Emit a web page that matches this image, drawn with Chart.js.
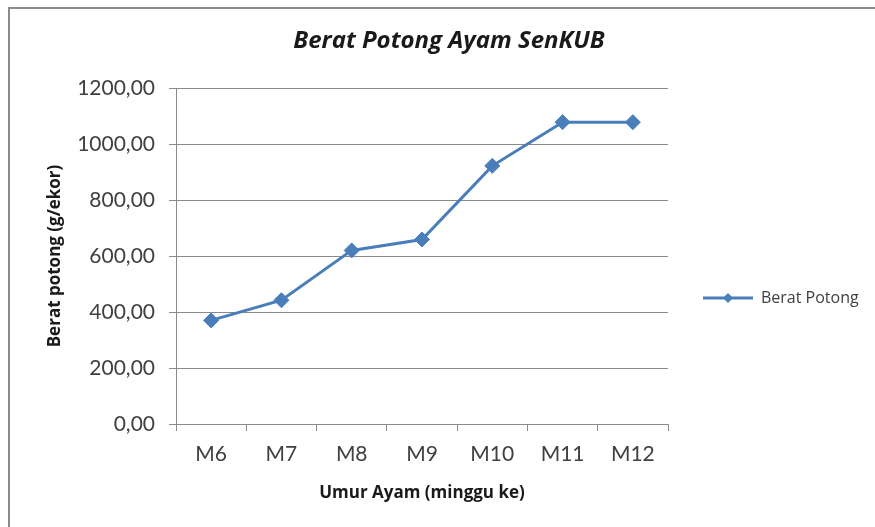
<!DOCTYPE html>
<html><head><meta charset="utf-8">
<script src="https://cdn.jsdelivr.net/npm/chart.js@4"></script>
<style>html,body{margin:0;padding:0;background:#fff}</style>
</head><body>
<canvas id="c" width="875" height="527"></canvas>
<script>
const categories = ['M6', 'M7', 'M8', 'M9', 'M10', 'M11', 'M12'];
const beratPotong = [370, 442, 620, 659, 922, 1078, 1078];
const seriesName = 'Berat Potong';
const chartTitle = 'Berat Potong Ayam SenKUB';
const xTitle = 'Umur Ayam (minggu ke)';
const yTitle = 'Berat potong (g/ekor)';
const yMin = 0, yMax = 1200, yStep = 200;

const blue = '#4A7EBB';
const gridGray = '#8a8a8a';
const textGray = '#404040';
const legendPad = 10;

// legend marker: short line with a diamond
const mk = document.createElement('canvas');
mk.width = 50; mk.height = 16;
(function () {
  const g = mk.getContext('2d');
  g.strokeStyle = blue; g.lineWidth = 3;
  g.beginPath(); g.moveTo(0, 8); g.lineTo(50, 8); g.stroke();
  g.fillStyle = blue;
  g.beginPath(); g.moveTo(25, 3); g.lineTo(30, 8); g.lineTo(25, 13); g.lineTo(20, 8); g.closePath(); g.fill();
})();

const placer = {
  id: 'placer',
  afterLayout(chart) {
    const lg = chart.legend;
    if (lg) {
      const h = lg.height;
      lg.left = 703 - legendPad; lg.right = 875;
      lg.top = 298 - h / 2; lg.bottom = lg.top + h;
    }
    const t = chart.titleBlock;
    if (t) {
      const tw = t.right - t.left;
      t.left = 449 - tw / 2; t.right = t.left + tw;
    }
  },
  beforeDraw(chart) {
    const ctx = chart.ctx;
    ctx.save();
    ctx.fillStyle = '#fff';
    ctx.fillRect(0, 0, chart.width, chart.height);
    ctx.strokeStyle = '#8c8c8c';
    ctx.lineWidth = 2;
    ctx.beginPath();
    ctx.moveTo(9, 527); ctx.lineTo(9, 8); ctx.lineTo(875, 8);
    ctx.stroke();
    ctx.restore();
  }
};

new Chart(document.getElementById('c'), {
  type: 'line',
  data: {
    labels: categories,
    datasets: [{
      label: seriesName,
      data: beratPotong,
      borderColor: blue,
      backgroundColor: blue,
      borderWidth: 3,
      pointStyle: 'rectRot',
      pointRadius: 7.5,
      pointBackgroundColor: blue,
      pointBorderColor: blue,
      pointBorderWidth: 1,
      tension: 0,
      fill: false
    }]
  },
  options: {
    responsive: false,
    animation: false,
    devicePixelRatio: 1,
    layout: { padding: { left: 8, right: 57, top: 0, bottom: 10 } },
    plugins: {
      title: {
        display: true,
        text: chartTitle,
        color: '#1a1a1a',
        font: { family: 'Open Sans', size: 24, weight: 'bold', style: 'italic' },
        padding: { top: 26.6, bottom: 32.6 }
      },
      legend: {
        display: true,
        position: 'right',
        maxWidth: 150,
        labels: {
          usePointStyle: true,
          pointStyle: mk,
          pointStyleWidth: 50,
          padding: legendPad,
          color: textGray,
          font: { family: 'Open Sans', size: 16 }
        }
      },
      tooltip: { enabled: false }
    },
    scales: {
      x: {
        offset: true,
        grid: { display: true, drawOnChartArea: false, drawTicks: true, tickLength: 7, offset: true, color: gridGray },
        border: { display: true, color: gridGray, width: 1 },
        ticks: { color: textGray, padding: 11, font: { family: 'Lato', size: 21 }, maxRotation: 0 },
        title: { display: true, text: xTitle, color: '#1a1a1a', font: { family: 'Open Sans', size: 17, weight: 'bold' }, padding: { top: 4, bottom: 13.8 } },
        afterFit(s) { s.height = 93; }
      },
      y: {
        min: yMin, max: yMax,
        ticks: {
          stepSize: yStep, color: textGray, padding: 14,
          font: { family: 'Lato', size: 21 },
          callback: v => v.toFixed(2).replace('.', ',')
        },
        grid: { color: gridGray, tickLength: 7, drawTicks: true },
        border: { display: true, color: gridGray, width: 1 },
        title: { display: true, text: yTitle, color: '#1a1a1a', font: { family: 'Open Sans', size: 17, weight: 'bold' }, padding: { top: 36.8, bottom: 4 } },
        afterFit(s) { s.width = 168; }
      }
    }
  },
  plugins: [placer]
});
</script>
</body></html>
